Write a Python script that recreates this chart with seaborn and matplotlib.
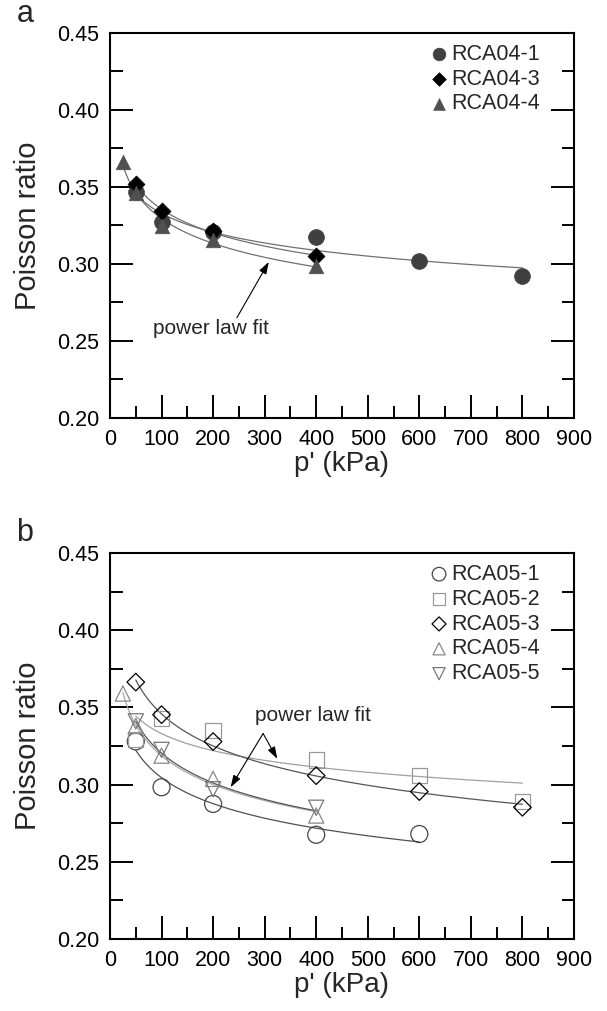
import numpy as np
import pandas as pd
import matplotlib
matplotlib.use('Agg')
import matplotlib.pyplot as plt
import seaborn as sns

#%% Daten

# Panel a
p_a1 = [50, 100, 200, 400, 600, 800]
nu_a1 = [0.347, 0.3275, 0.321, 0.3177, 0.302, 0.2922]
p_a3 = [50, 100, 200, 400]
nu_a3 = [0.352, 0.3344, 0.3214, 0.3052]
p_a4 = [25, 50, 100, 200, 400]
nu_a4 = [0.3664, 0.346, 0.3247, 0.3156, 0.2987]
labels_a = ['RCA04-1', 'RCA04-3', 'RCA04-4']

# Panel b
p_b1 = [50, 100, 200, 400, 600]
nu_b1 = [0.328, 0.2983, 0.2875, 0.2675, 0.268]
p_b2 = [50, 100, 200, 400, 600, 800]
nu_b2 = [0.329, 0.343, 0.335, 0.316, 0.306, 0.289]
p_b3 = [50, 100, 200, 400, 600, 800]
nu_b3 = [0.3664, 0.3453, 0.3279, 0.3058, 0.2955, 0.2853]
p_b4 = [25, 50, 100, 200, 400]
nu_b4 = [0.359, 0.338, 0.3188, 0.3037, 0.280]
p_b5 = [50, 100, 200, 400]
nu_b5 = [0.341, 0.3225, 0.297, 0.285]
labels_b = ['RCA05-1', 'RCA05-2', 'RCA05-3', 'RCA05-4', 'RCA05-5']

#%% Stil

sns.set_theme(style='ticks')
plt.rcParams['font.family'] = ['Liberation Sans', 'DejaVu Sans']
plt.rcParams['axes.linewidth'] = 1.5
plt.rcParams['axes.edgecolor'] = 'black'

# Potenzgesetz-Fit y = a * x^b
def powerfit(x, y):
    x = np.asarray(x, float)
    y = np.asarray(y, float)
    b, lna = np.polyfit(np.log(x), np.log(y), 1)
    xs = np.geomspace(x.min(), x.max(), 200)
    return xs, np.exp(lna) * xs ** b

def style_axes(ax):
    ax.set_xlim(0, 900)
    ax.set_ylim(0.20, 0.45)
    ax.set_xticks(np.arange(0, 901, 100))
    ax.set_xticks(np.arange(50, 900, 100), minor=True)
    ax.set_yticks(np.arange(0.20, 0.451, 0.05))
    ax.set_yticks(np.arange(0.225, 0.45, 0.05), minor=True)
    ax.set_yticklabels(['%.2f' % v for v in np.arange(0.20, 0.451, 0.05)])
    ax.tick_params(which='both', direction='in', top=False, right=True,
                   width=1.4, labelsize=15.5, pad=8, colors='black')
    ax.tick_params(which='major', length=16.5)
    ax.tick_params(which='minor', length=9)
    ax.set_xlabel("p' (kPa)", fontsize=20)
    ax.set_ylabel('Poisson ratio', fontsize=21)
    ax.xaxis.set_label_coords(0.5, -0.085)
    ax.yaxis.set_label_coords(-0.146, 0.5)
    for s in ax.spines.values():
        s.set_visible(True)
        s.set_linewidth(1.5)

fig = plt.figure(figsize=(6.07, 10.11), dpi=100)
ax1 = fig.add_axes([0.1812, 0.5866, 0.7644, 0.3808])
ax2 = fig.add_axes([0.1812, 0.0712, 0.7644, 0.3818])

#%% Panel a

series_a = [(p_a1, nu_a1, 'o', '#404040', '#404040', 130),
            (p_a3, nu_a3, 'D', 'black', 'black', 75),
            (p_a4, nu_a4, '^', '#505050', '#505050', 110)]
for (px, nu, m, fc, ec, s), lab in zip(series_a, labels_a):
    xs, ys = powerfit(px, nu)
    sns.lineplot(x=xs, y=ys, ax=ax1, color='#707070', lw=0.9, zorder=1, legend=False)
for (px, nu, m, fc, ec, s), lab in zip(series_a, labels_a):
    sns.scatterplot(x=px, y=nu, ax=ax1, marker=m, color=fc, edgecolor=ec,
                    s=s, linewidth=0.5, zorder=3, label=lab)

ax1.text(196, 0.2584, 'power law fit', fontsize=15, ha='center', va='center')
ax1.annotate('', xy=(308, 0.3013), xytext=(246, 0.265),
             arrowprops=dict(arrowstyle='-|>,head_length=0.6,head_width=0.2',
                             color='black', lw=0.8, shrinkA=0, shrinkB=0))

#%% Panel b

series_b = [(p_b1, nu_b1, 'o', '#454545', '#505050', 150),
            (p_b2, nu_b2, 's', '#999999', '#a0a0a0', 120),
            (p_b3, nu_b3, 'D', 'black', '#555555', 80),
            (p_b4, nu_b4, '^', '#888888', '#a8a8a8', 120),
            (p_b5, nu_b5, 'v', '#777777', '#555555', 120)]
for (px, nu, m, ec, lc, s), lab in zip(series_b, labels_b):
    xs, ys = powerfit(px, nu)
    sns.lineplot(x=xs, y=ys, ax=ax2, color=lc, lw=0.9, zorder=1, legend=False)
for (px, nu, m, ec, lc, s), lab in zip(series_b, labels_b):
    sns.scatterplot(x=px, y=nu, ax=ax2, marker=m, facecolor='none', edgecolor=ec,
                    s=s, linewidth=0.9, zorder=3, label=lab)

ax2.text(394, 0.3448, 'power law fit', fontsize=15, ha='center', va='center')
for head in [(234, 0.2983), (324.5, 0.3167)]:
    ax2.annotate('', xy=head, xytext=(297, 0.3331),
                 arrowprops=dict(arrowstyle='-|>,head_length=0.6,head_width=0.2',
                                 color='black', lw=0.8, shrinkA=0, shrinkB=0))

for ax in (ax1, ax2):
    style_axes(ax)
    leg = ax.legend(loc='upper left', bbox_to_anchor=(0.686, 0.972), frameon=False,
                    fontsize=15.5, handlelength=1.0, handletextpad=0.05,
                    labelspacing=0.18, borderpad=0, borderaxespad=0,
                    markerscale=0.8, scatterpoints=1)

fig.text(25 / 607, 1 - 14 / 1011, 'a', fontsize=22, ha='center', va='center')
fig.text(25 / 607, 1 - 533 / 1011, 'b', fontsize=22, ha='center', va='center')

fig.savefig('out.png', dpi=100)
